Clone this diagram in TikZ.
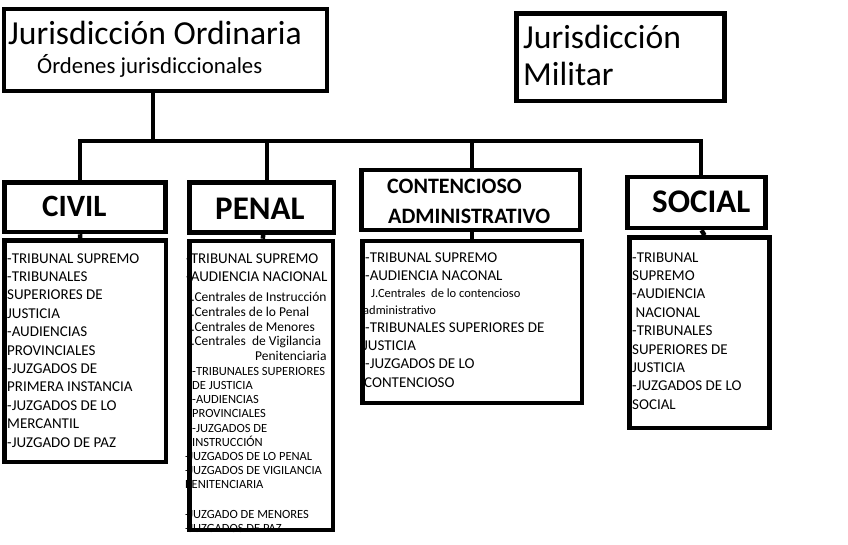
\documentclass[tikz,border=0pt]{standalone}
\usepackage{fontspec}
\setmainfont{Carlito}
\begin{document}
\begin{tikzpicture}[x=1pt,y=-1pt,
  box/.style={draw, line width=4.5pt, rectangle, inner sep=0pt},
  conn/.style={line width=4.5pt},
  txt/.style={anchor=base west, inner sep=0pt},
  big/.style={txt, font=\fontsize{33.6}{40}\selectfont},
  head/.style={txt, font=\fontsize{33}{40}\selectfont\bfseries},
  item/.style={txt, font=\fontsize{15}{18}\selectfont},
  small/.style={txt, font=\fontsize{13.5}{16}\selectfont},
  tiny/.style={txt, font=\fontsize{12.5}{15}\selectfont}]
\useasboundingbox (0,0) rectangle (848,545);

% ---------- texts ----------
\node[big] (t1) at (8,44.5) {Jurisdicción Ordinaria};
\node[txt, font=\fontsize{22.8}{27}\selectfont] (t2) at (37,74) {Órdenes jurisdiccionales};
\node[big] (m1) at (523,49) {Jurisdicción};
\node[big] (m2) at (523,86) {Militar};

\node[head, font=\fontsize{31}{36}\selectfont\bfseries] (hciv) at (42,217) {CIVIL};
\node[head] (hpen) at (215,220) {PENAL};
\node[txt, font=\fontsize{22}{26}\selectfont\bfseries] (hcon1) at (387,194) {CONTENCIOSO};
\node[txt, font=\fontsize{22}{26}\selectfont\bfseries] (hcon2) at (388,224) {ADMINISTRATIVO};
\node[head] (hsoc) at (652,213) {SOCIAL};

% civil list
\foreach \t [count=\i from 0] in {-TRIBUNAL SUPREMO,-TRIBUNALES,SUPERIORES DE,JUSTICIA,-AUDIENCIAS,PROVINCIALES,-JUZGADOS DE,PRIMERA INSTANCIA,-JUZGADOS DE LO,MERCANTIL,-JUZGADO DE PAZ}
  \node[item] (civ\i) at (7,263+18.4*\i) {\t};

% penal list
\node[item] (pa1) at (186,263) {-TRIBUNAL SUPREMO};
\node[item] (pa2) at (186,281) {-AUDIENCIA NACIONAL};
\node[small] (pb1) at (187,301) {J.Centrales de Instrucción};
\node[small] (pb2) at (187,316.5) {J.Centrales de lo Penal};
\node[small] (pb3) at (187,331) {J.Centrales de Menores};
\node[small] (pb4) at (187,345.5) {J.Centrales\ \ de Vigilancia};
\node[small] (pb5) at (255,360) {Penitenciaria};
\foreach \y/\t [count=\i] in {375/-TRIBUNALES SUPERIORES,389/DE JUSTICIA,403/-AUDIENCIAS,417/PROVINCIALES,432/-JUZGADOS DE,446/INSTRUCCIÓN}
  \node[tiny] (pc\i) at (192,\y) {\t};
\foreach \y/\t [count=\i] in {460/-JUZGADOS DE LO PENAL,474/-JUZGADOS DE VIGILANCIA,488/PENITENCIARIA,518/-JUZGADO DE MENORES,532/-JUZGADOS DE PAZ}
  \node[tiny] (pd\i) at (185,\y) {\t};

% contencioso list
\node[item] (ca1) at (365,262) {-TRIBUNAL SUPREMO};
\node[item] (ca2) at (365,280) {-AUDIENCIA NACONAL};
\node[tiny] (ca3) at (371,298) {J.Centrales\ \ de lo contencioso};
\node[tiny] (ca4) at (363,314) {administrativo};
\node[item] (ca5) at (365,332) {-TRIBUNALES SUPERIORES DE};
\node[item] (ca6) at (363,350) {JUSTICIA};
\node[item] (ca7) at (365,368.5) {-JUZGADOS DE LO};
\node[item] (ca8) at (364,387) {CONTENCIOSO};

% social list
\foreach \t [count=\i from 0] in {-TRIBUNAL,SUPREMO,-AUDIENCIA,\ NACIONAL,-TRIBUNALES,SUPERIORES DE,JUSTICIA,-JUZGADOS DE LO,SOCIAL}
  \node[item] (soc\i) at (632,262+18.4*\i) {\t};

% ---------- boxes ----------
\node[box, minimum width=323pt, minimum height=82pt] (ord) at (165.5,50) {};
\node[box, minimum width=208pt, minimum height=87.5pt] (mil) at (620.5,57.25) {};

\node[box, minimum width=161pt, minimum height=49.5pt] (civh) at (85,207.25) {};
\node[box, minimum width=161.5pt, minimum height=221.5pt] (civl) at (85.25,351.25) {};
\node[box, minimum width=144.5pt, minimum height=50pt] (penh) at (261.75,207.5) {};
\node[box, minimum width=143.5pt, minimum height=289pt] (penl) at (261.25,385.5) {};
\node[box, minimum width=218.5pt, minimum height=60pt] (conh) at (470.75,200) {};
\node[box, minimum width=219.5pt, minimum height=162pt] (conl) at (472.25,322) {};
\node[box, minimum width=138pt, minimum height=51pt] (soch) at (696.5,202.5) {};
\node[box, minimum width=140pt, minimum height=190.5pt] (socl) at (699.5,332.75) {};

% ---------- connectors ----------
\coordinate (bus) at (153,141);
\draw[conn] (ord.south -| bus) -- (bus);
\draw[conn] ([xshift=-5pt]civh.north) |- (bus) -| ([xshift=4.5pt]soch.north);
\draw[conn] ([xshift=5.25pt]penh.north) -- ([xshift=5.25pt]penh.north |- bus);
\draw[conn] ([xshift=1.25pt]conh.north) -- ([xshift=1.25pt]conh.north |- bus);

\draw[conn] ([xshift=-5pt]civh.south) -- ([xshift=-5pt]civl.north);
\draw[conn] ([xshift=1.5pt]penh.south) -- ([xshift=1.5pt]penl.north);
\draw[conn] ([xshift=1.25pt]conh.south) -- ([xshift=1.25pt]conh.south |- conl.north);
\draw[conn] ([xshift=5pt]soch.south) -- ([xshift=5pt]socl.north);
\end{tikzpicture}
\end{document}
